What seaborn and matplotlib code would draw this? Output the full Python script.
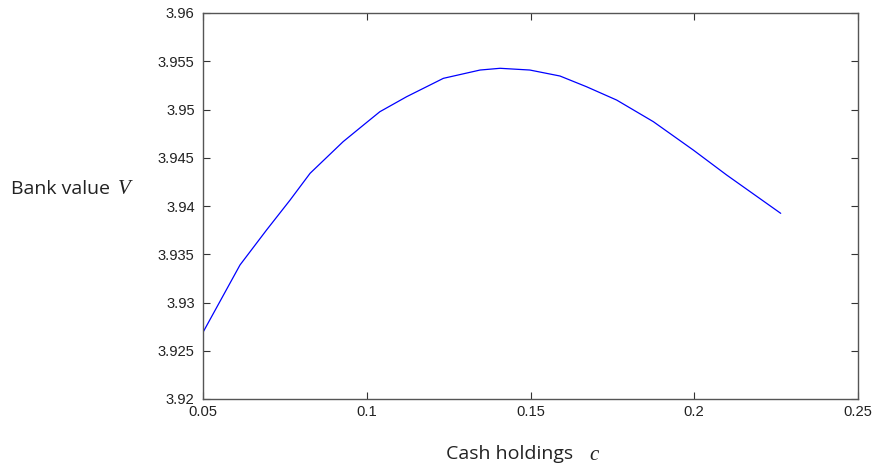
import matplotlib
matplotlib.use("Agg")
import matplotlib.pyplot as plt
import seaborn as sns
import pandas as pd
from matplotlib.ticker import FuncFormatter

cash = [0.05, 0.0613, 0.0694, 0.0766, 0.0827, 0.0928, 0.099, 0.104, 0.1122, 0.1234,
        0.1346, 0.1407, 0.1498, 0.159, 0.1671, 0.1763, 0.1875, 0.1997, 0.2099, 0.2264]
value = [3.92691, 3.93389, 3.93751, 3.94062, 3.94339, 3.94667, 3.94839, 3.94977, 3.95133, 3.95323,
         3.95409, 3.95427, 3.95409, 3.95347, 3.95236, 3.95098, 3.94874, 3.94580, 3.94321, 3.93924]
xticks = [0.05, 0.1, 0.15, 0.2, 0.25]
yticks = [3.92, 3.925, 3.93, 3.935, 3.94, 3.945, 3.95, 3.955, 3.96]

sns.set_style("ticks")
plt.rcParams['font.family'] = ['Liberation Sans', 'DejaVu Sans']

df = pd.DataFrame({"c": cash, "V": value})
fig = plt.figure(figsize=(8.76, 4.70), dpi=100)
ax = fig.add_axes([203/876, 1-399/470, (858-203)/876, (399-13)/470])
sns.lineplot(data=df, x="c", y="V", ax=ax, color=(0, 0, 1), linewidth=0.9, estimator=None, sort=False)

ax.set_xlim(0.05, 0.25)
ax.set_ylim(3.92, 3.96)
ax.set_xticks(xticks)
ax.set_yticks(yticks)
fmt = FuncFormatter(lambda v, p: ("%g" % round(v, 4)))
ax.xaxis.set_major_formatter(fmt)
ax.yaxis.set_major_formatter(fmt)
ax.tick_params(direction="in", length=5, width=0.8, colors="#333333", labelcolor="#222222",
               labelsize=10.6, top=True, right=True)
ax.tick_params(axis="x", pad=4)
ax.tick_params(axis="y", pad=6)
for s in ax.spines.values():
    s.set_visible(True)
    s.set_color("#555555")
    s.set_linewidth(1.0)
ax.set_xlabel("")
ax.set_ylabel("")

fig.text(11/876, 1-189/470, "Bank value", fontsize=14, family=["Open Sans"], color="#222222", va="center", ha="left")
fig.text(118/876, 1-189/470, "V", fontsize=15, family=["Liberation Serif"], style="italic", color="#222222", va="center", ha="left")
fig.text(446/876, 1-454/470, "Cash holdings", fontsize=14, family=["Open Sans"], color="#222222", va="center", ha="left")
fig.text(589/876, 1-456/470, "c", fontsize=15, family=["Liberation Serif"], style="italic", color="#222222", va="center", ha="left")

fig.savefig("out.png", dpi=100)
